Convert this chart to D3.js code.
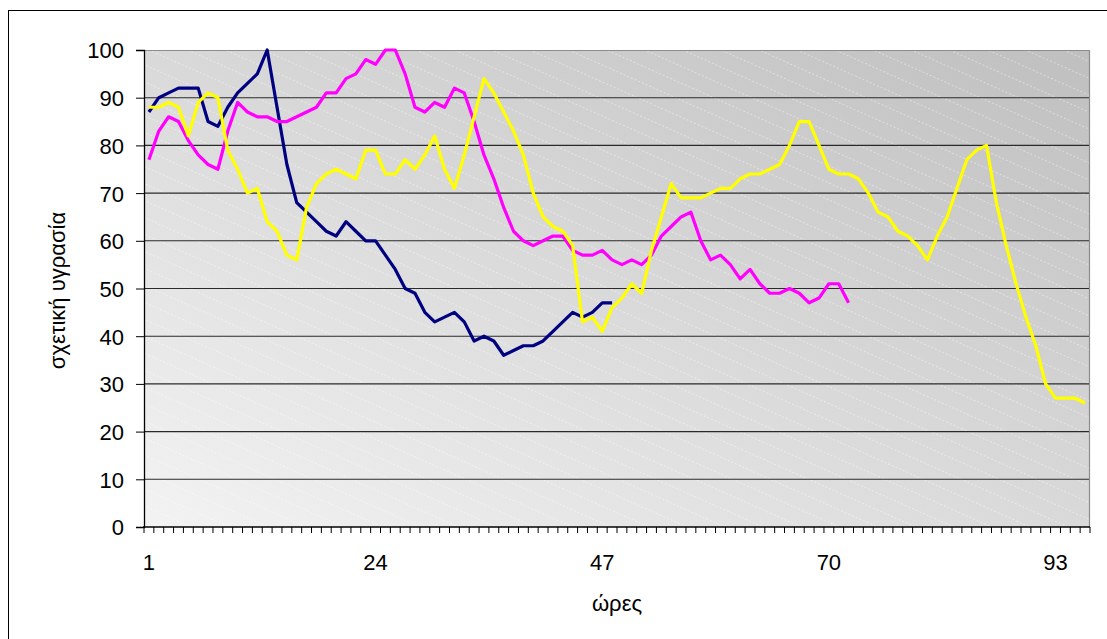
<!DOCTYPE html>
<html>
<head>
<meta charset="utf-8">
<script src="https://cdn.jsdelivr.net/npm/d3@7"></script>
<style>
  html, body { margin: 0; padding: 0; background: #fff; }
  svg { display: block; font-family: "Liberation Sans", Arial, sans-serif; }
</style>
</head>
<body>
<svg id="chart" width="1107" height="639"></svg>
<script>
// Hourly categories on the horizontal axis
const hours = d3.range(1, 97);
const hourTickLabels = [1, 24, 47, 70, 93];
const humidityTicks = [0, 10, 20, 30, 40, 50, 60, 70, 80, 90, 100];

// Relative humidity (%) per hour for the three recordings
const seriesNavy = [87,90,91,92,92,92,85,84,88,91,93,95,100,88,76,68,66,64,62,61,64,62,60,60,
  57,54,50,49,45,43,44,45,43,39,40,39,36,37,38,38,39,41,43,45,44,45,47,47];
const seriesMagenta = [77,83,86,85,81,78,76,75,83,89,87,86,86,85,85,86,87,88,91,91,94,95,98,97,
  100,100,95,88,87,89,88,92,91,85,78,73,67,62,60,59,60,61,61,58,57,57,58,56,
  55,56,55,57,61,63,65,66,60,56,57,55,52,54,51,49,49,50,49,47,48,51,51,47];
const seriesYellow = [88,88,89,88,82,89,91,90,79,75,70,71,64,62,57,56,67,72,74,75,74,73,79,79,
  74,74,77,75,78,82,75,71,78,86,94,91,87,83,78,70,65,63,62,59,43,44,41,46,
  48,51,49,58,65,72,69,69,69,70,71,71,73,74,74,75,76,80,85,85,80,75,74,74,
  73,70,66,65,62,61,59,56,61,65,71,77,79,80,68,59,51,44,38,30,27,27,27,26];

const yLabel = "σχετική υγρασία";
const xLabel = "ώρες";

const svg = d3.select("#chart");
const plot = { left: 144, right: 1090, top: 50, bottom: 527 };
const fontSize = 22;

const x = d3.scaleBand().domain(hours).range([plot.left, plot.right]).padding(0);
const y = d3.scaleLinear().domain([0, 100]).range([plot.bottom, plot.top]);
const cx = h => x(h) + x.bandwidth() / 2;

// Outer chart frame
svg.append("rect")
  .attr("x", 8.5).attr("y", 10.5)
  .attr("width", 1300).attr("height", 800)
  .attr("fill", "#fff").attr("stroke", "#000").attr("stroke-width", 1);

const defs = svg.append("defs");
const grad = defs.append("linearGradient")
  .attr("id", "plotFill")
  .attr("x1", 0).attr("y1", 1).attr("x2", 1).attr("y2", 0);
grad.append("stop").attr("offset", "0%").attr("stop-color", "#f3f3f3");
grad.append("stop").attr("offset", "100%").attr("stop-color", "#bfbfbf");

const stripes = defs.append("pattern")
  .attr("id", "stripes")
  .attr("patternUnits", "userSpaceOnUse")
  .attr("width", 24).attr("height", 15.5)
  .attr("patternTransform", "rotate(24)");
stripes.append("line")
  .attr("x1", 0).attr("y1", 0.5).attr("x2", 24).attr("y2", 0.5)
  .attr("stroke", "#ffffff").attr("stroke-opacity", 0.4)
  .attr("stroke-width", 1).attr("stroke-dasharray", "2,2");

defs.append("clipPath").attr("id", "plotClip")
  .append("rect")
  .attr("x", plot.left).attr("y", plot.top - 3)
  .attr("width", plot.right - plot.left).attr("height", plot.bottom - plot.top + 3);

// Plot area background
svg.append("rect")
  .attr("x", plot.left).attr("y", plot.top)
  .attr("width", plot.right - plot.left).attr("height", plot.bottom - plot.top)
  .attr("fill", "url(#plotFill)");
svg.append("rect")
  .attr("x", plot.left).attr("y", plot.top)
  .attr("width", plot.right - plot.left).attr("height", plot.bottom - plot.top)
  .attr("fill", "url(#stripes)");

// Horizontal gridlines
svg.append("g")
  .selectAll("line")
  .data(humidityTicks.filter(d => d > 0 && d < 100))
  .join("line")
  .attr("x1", plot.left).attr("x2", plot.right)
  .attr("y1", d => y(d)).attr("y2", d => y(d))
  .attr("stroke", "#2a2a2a").attr("stroke-width", 1.1);

// Plot area border (top and right in grey)
svg.append("path")
  .attr("d", `M${plot.left},${plot.top + 0.5}H${plot.right - 0.5}V${plot.bottom}`)
  .attr("fill", "none").attr("stroke", "#8c8c8c").attr("stroke-width", 1.2);

// Y axis
const yAxis = svg.append("g")
  .attr("transform", `translate(${plot.left},0)`)
  .call(d3.axisLeft(y).tickValues(humidityTicks).tickSize(8).tickPadding(12));
yAxis.select(".domain").attr("stroke", "#000").attr("stroke-width", 1.3);
yAxis.selectAll(".tick line").attr("stroke", "#000");
yAxis.selectAll(".tick text")
  .attr("font-size", fontSize).attr("fill", "#000")
  .attr("font-family", "Liberation Sans, Arial, sans-serif")
  .attr("dy", "0.36em");

// X axis: tick marks at category boundaries, labels at selected hours
const xAxis = svg.append("g")
  .attr("transform", `translate(0,${plot.bottom})`)
  .call(d3.axisBottom(x).tickValues(hourTickLabels).tickSize(0).tickPadding(27));
xAxis.select(".domain").remove();
xAxis.selectAll(".tick text")
  .attr("font-size", fontSize).attr("fill", "#000")
  .attr("font-family", "Liberation Sans, Arial, sans-serif")
  .attr("dy", "0.71em");

svg.append("g")
  .selectAll("line")
  .data(hours.map(h => x(h)).concat([x(hours[hours.length - 1]) + x.bandwidth()]))
  .join("line")
  .attr("x1", d => d).attr("x2", d => d)
  .attr("y1", plot.bottom).attr("y2", plot.bottom + 6)
  .attr("stroke", "#000").attr("stroke-width", 1);

svg.append("line")
  .attr("x1", plot.left - 1).attr("x2", plot.right)
  .attr("y1", plot.bottom).attr("y2", plot.bottom)
  .attr("stroke", "#000").attr("stroke-width", 1.3);

// Series lines
const line = d3.line()
  .x((d, i) => cx(hours[i]))
  .y(d => y(d));

const seriesList = [
  { values: seriesNavy, color: "#000080" },
  { values: seriesMagenta, color: "#ff00ff" },
  { values: seriesYellow, color: "#ffff00" }
];

svg.append("g")
  .attr("clip-path", "url(#plotClip)")
  .selectAll("path")
  .data(seriesList)
  .join("path")
  .attr("d", s => line(s.values))
  .attr("fill", "none")
  .attr("stroke", s => s.color)
  .attr("stroke-width", 3.2)
  .attr("stroke-linejoin", "round");

// Axis titles
svg.append("text")
  .attr("transform", `translate(65,${(plot.top + plot.bottom) / 2 + 2}) rotate(-90)`)
  .attr("text-anchor", "middle")
  .attr("font-size", fontSize)
  .text(yLabel);

svg.append("text")
  .attr("x", (plot.left + plot.right) / 2)
  .attr("y", 611)
  .attr("text-anchor", "middle")
  .attr("font-size", fontSize)
  .text(xLabel);
</script>
</body>
</html>
